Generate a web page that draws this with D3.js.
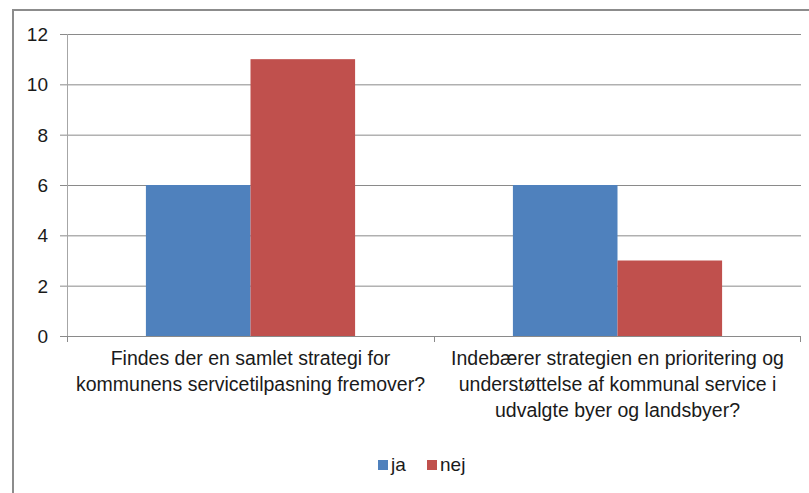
<!DOCTYPE html>
<html>
<head>
<meta charset="utf-8">
<script src="https://cdn.jsdelivr.net/npm/d3@7"></script>
<style>
  body { margin: 0; background: #fff; }
  svg text { font-family: "Liberation Sans", Arial, sans-serif; fill: #1a1a1a; }
</style>
</head>
<body>
<div class="chart"></div>
<script>
// chart data
var categories = [
  ["Findes der en samlet strategi for", "kommunens servicetilpasning fremover?"],
  ["Indebærer strategien en prioritering og", "understøttelse af kommunal service i", "udvalgte byer og landsbyer?"]
];
var seriesNames = ["ja", "nej"];
var jaValues = [6, 6];
var nejValues = [11, 3];
var yTicks = [0, 2, 4, 6, 8, 10, 12];
var colors = ["#4f81bd", "#c0504d"];

var svgWidth = 809;
var svgHeight = 493;
var margin = {top: 34, right: 8, bottom: 157, left: 67};
var width = svgWidth - margin.left - margin.right;
var height = svgHeight - margin.top - margin.bottom;

var svg = d3.select(".chart")
  .append("svg")
  .attr("width", svgWidth)
  .attr("height", svgHeight);

// outer frame, runs off the right and bottom edges
svg.append("rect")
  .attr("x", 13).attr("y", 10)
  .attr("width", 820).attr("height", 520)
  .attr("fill", "none")
  .attr("stroke", "#8c8c8c")
  .attr("stroke-width", 2);

var chart = svg.append("g")
  .attr("transform", "translate(" + margin.left + "," + margin.top + ")");

var x0 = d3.scaleBand().domain(d3.range(categories.length)).range([0, width]).paddingInner(0).paddingOuter(0);
var x1 = d3.scaleBand().domain(seriesNames).range([x0.bandwidth() * 0.215, x0.bandwidth() * 0.785]);
var y = d3.scaleLinear().domain([0, 12]).range([height, 0]);

// gridlines
chart.append("g")
  .selectAll("line")
  .data(yTicks)
  .enter()
  .append("line")
  .attr("x1", -7).attr("x2", width)
  .attr("y1", function(d) { return y(d) + 0.5; })
  .attr("y2", function(d) { return y(d) + 0.5; })
  .attr("stroke", "#8a8a8a")
  .attr("stroke-width", 1);

// bars
var rows = categories.map(function(c, i) {
  return [{s: "ja", v: jaValues[i], c: 0}, {s: "nej", v: nejValues[i], c: 1}];
});

chart.selectAll(".grp")
  .data(rows)
  .enter()
  .append("g")
  .attr("transform", function(d, i) { return "translate(" + x0(i) + ",0)"; })
  .selectAll("rect")
  .data(function(d) { return d; })
  .enter()
  .append("rect")
  .attr("x", function(d) { return x1(d.s); })
  .attr("width", x1.bandwidth())
  .attr("y", function(d) { return y(d.v); })
  .attr("height", function(d) { return height - y(d.v); })
  .attr("fill", function(d) { return colors[d.c]; });

// y axis line
chart.append("line")
  .attr("x1", 0.5).attr("x2", 0.5)
  .attr("y1", 0).attr("y2", height + 6)
  .attr("stroke", "#a6a6a6");

// x axis line and category ticks
chart.append("line")
  .attr("x1", 0).attr("x2", width)
  .attr("y1", height + 0.5).attr("y2", height + 0.5)
  .attr("stroke", "#8a8a8a");

chart.selectAll(".ctick")
  .data(d3.range(categories.length + 1))
  .enter()
  .append("line")
  .attr("x1", function(d) { return Math.min(d * x0.bandwidth(), width - 1) + 0.5; })
  .attr("x2", function(d) { return Math.min(d * x0.bandwidth(), width - 1) + 0.5; })
  .attr("y1", height).attr("y2", height + 6)
  .attr("stroke", "#8a8a8a");

// y tick labels
chart.selectAll(".ylab")
  .data(yTicks)
  .enter()
  .append("text")
  .attr("x", -19)
  .attr("y", function(d) { return y(d); })
  .attr("dy", "0.36em")
  .attr("text-anchor", "end")
  .style("font-size", "19px")
  .text(function(d) { return d; });

// category labels
categories.forEach(function(lines, i) {
  var t = chart.append("text")
    .attr("text-anchor", "middle")
    .style("font-size", "19.5px");
  lines.forEach(function(line, j) {
    t.append("tspan")
      .attr("x", x0(i) + x0.bandwidth() / 2)
      .attr("y", height + 29 + j * 26)
      .text(line);
  });
});

// legend
var legend = svg.append("g").attr("transform", "translate(378,460)");
var legendX = [0, 49];
seriesNames.forEach(function(name, i) {
  legend.append("rect")
    .attr("x", legendX[i]).attr("y", 0)
    .attr("width", 10).attr("height", 10)
    .attr("fill", colors[i]);
  legend.append("text")
    .attr("x", legendX[i] + 13)
    .attr("y", 11)
    .style("font-size", "19px")
    .text(name);
});
</script>
</body>
</html>
